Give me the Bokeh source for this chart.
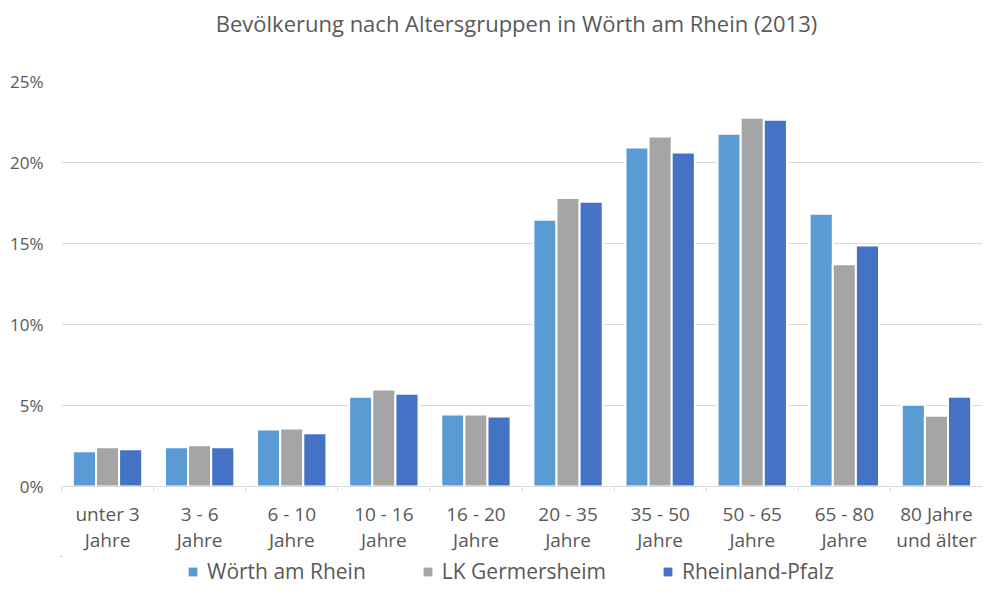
from bokeh.plotting import figure
from bokeh.layouts import column
from bokeh.models import (FixedTicker, PrintfTickFormatter, Range1d, ColumnDataSource)
from bokeh.transform import dodge
from bokeh.embed import file_html
from bokeh.resources import INLINE

title = "Bevölkerung nach Altersgruppen in Wörth am Rhein (2013)"
categories = ["unter 3\nJahre", "3 - 6\nJahre", "6 - 10\nJahre", "10 - 16\nJahre",
              "16 - 20\nJahre", "20 - 35\nJahre", "35 - 50\nJahre", "50 - 65\nJahre",
              "65 - 80\nJahre", "80 Jahre\nund älter"]
series_names = ["Wörth am Rhein", "LK Germersheim", "Rheinland-Pfalz"]
woerth = [2.18, 2.42, 3.52, 5.54, 4.44, 16.47, 20.92, 21.78, 16.84, 5.04]
germersheim = [2.42, 2.54, 3.58, 5.98, 4.44, 17.81, 21.60, 22.76, 13.72, 4.37]
rlp = [2.30, 2.42, 3.28, 5.72, 4.32, 17.57, 20.62, 22.64, 14.88, 5.54]
y_ticks = [0, 5, 10, 15, 20, 25]

colors = ["#5B9BD5", "#A5A5A5", "#4472C4"]
TXT = "#595959"
GRID = "#D9D9D9"
FONT = "Open Sans"

n = len(categories)
centers = [i + 0.5 for i in range(n)]
src = ColumnDataSource(dict(x=centers, w=woerth, g=germersheim, r=rlp))

p = figure(width=982, height=556, x_range=Range1d(0, n), y_range=Range1d(0, 25),
           output_backend="svg", toolbar_location=None,
           min_border_left=61, min_border_right=0, min_border_top=81,
           min_border_bottom=66)
p.outline_line_color = None
p.background_fill_color = "white"

pitch = 0.251
for k, (col, c) in enumerate(zip(["w", "g", "r"], colors)):
    p.vbar(x=dodge("x", (k - 1) * pitch), top=col, bottom=0, width=pitch,
           source=src, fill_color=c, line_color="white", line_width=2)

# title
p.title.text = title
p.title.align = "center"
p.title.text_font = FONT
p.title.text_font_size = "22px"
p.title.text_font_style = "normal"
p.title.text_color = TXT
p.title.standoff = 10
p.title.padding = (0, 11, 0, 39)

# x axis
xa = p.xaxis[0]
xa.ticker = FixedTicker(ticks=centers, minor_ticks=list(range(n + 1)))
xa.major_label_overrides = {c: lab for c, lab in zip(centers, categories)}
xa.major_tick_line_color = None
xa.minor_tick_in = 0
xa.minor_tick_out = 5
xa.minor_tick_line_color = GRID
xa.axis_line_color = GRID
xa.major_label_text_font = FONT
xa.major_label_text_font_size = "19px"
xa.major_label_text_color = TXT
xa.major_label_text_line_height = 1.02
xa.major_label_standoff = 8
p.xgrid.visible = False

# y axis
ya = p.yaxis[0]
ya.ticker = FixedTicker(ticks=y_ticks)
ya.formatter = PrintfTickFormatter(format="%d%%")
ya.axis_line_color = None
ya.major_tick_line_color = None
ya.minor_tick_line_color = None
ya.major_label_text_font = FONT
ya.major_label_text_font_size = "17px"
ya.major_label_text_color = TXT
ya.major_label_standoff = 12
p.ygrid.ticker = FixedTicker(ticks=y_ticks)
p.ygrid.grid_line_color = GRID

# legend strip: same series drawn outside its view, only their legend keys show
lg = figure(width=982, height=29, output_backend="svg", toolbar_location=None,
            x_range=Range1d(20, 21), y_range=Range1d(-2, -1),
            x_axis_location=None, y_axis_location=None, min_border=0)
lg.outline_line_color = None
lg.grid.visible = False
for k, (col, c, nm) in enumerate(zip(["w", "g", "r"], colors, series_names)):
    lg.vbar(x=dodge("x", (k - 1) * pitch), top=col, bottom=0, width=pitch,
            source=src, fill_color=c, line_color=None, legend_label=nm)
leg = lg.legend[0]
leg.orientation = "horizontal"
leg.location = (126, 0)
leg.label_text_font = FONT
leg.label_text_font_size = "21px"
leg.label_text_color = TXT
leg.label_height = 20
leg.glyph_width = 11
leg.glyph_height = 11
leg.label_standoff = 9
leg.spacing = 56
leg.border_line_color = None
leg.background_fill_alpha = 0
leg.padding = 0
leg.margin = 0

layout = column(p, lg, spacing=0)
open("out.html", "w").write(file_html(layout, INLINE))
